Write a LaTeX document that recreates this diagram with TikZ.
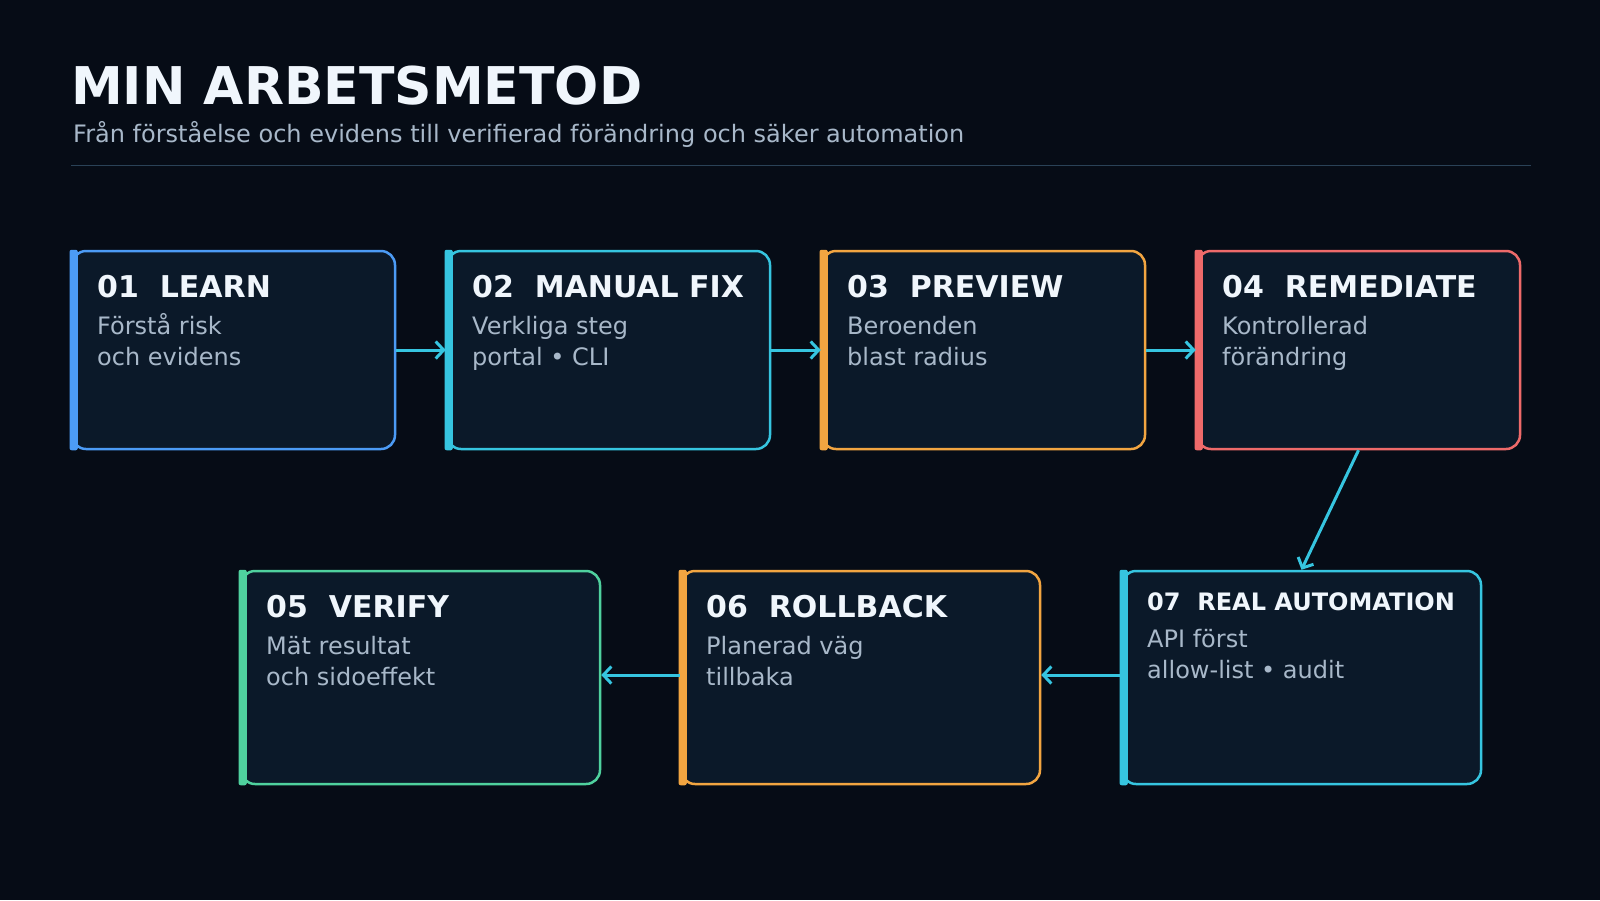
\documentclass[tikz,border=0pt]{standalone}
\usepackage{fontspec}
\setmainfont{DejaVu Sans}
\usepackage{tikz}
\usetikzlibrary{arrows.meta}

\definecolor{bgdark}{HTML}{060C16}
\definecolor{boxfill}{HTML}{0B1929}
\definecolor{ruleline}{HTML}{2A4257}
\definecolor{headtext}{HTML}{F0F6FC}
\definecolor{subtext}{HTML}{A8B8C9}
\definecolor{cBlue}{HTML}{4C9BF5}
\definecolor{cCyan}{HTML}{36C5E0}
\definecolor{cOrange}{HTML}{F2A541}
\definecolor{cRed}{HTML}{EE6A6A}
\definecolor{cGreen}{HTML}{4FD19E}

\tikzset{
  stepbox/.style={draw=#1,fill=boxfill,rounded corners=14pt,line width=2.5pt,inner sep=0pt},
  toprow/.style={stepbox=#1,minimum width=323pt,minimum height=198pt},
  lowrow/.style={stepbox=#1,minimum width=359pt,minimum height=213pt},
  steptitle/.style={anchor=base west,inner sep=0pt,text=headtext,font=\fontsize{30}{34}\selectfont\bfseries},
  stepdesc/.style={anchor=base west,inner sep=0pt,text=subtext,align=left,font=\fontsize{24}{31}\selectfont},
  flow/.style={draw=cCyan,line width=3pt,-{Straight Barb[length=8pt,width=17pt]}}
}

\newcommand{\sidebar}[2]{\fill[#2,rounded corners=2pt] ([xshift=-1.2pt]#1.north west) rectangle ([xshift=7pt]#1.south west);}

\begin{document}
\begin{tikzpicture}[x=1pt,y=-1pt]
  \fill[bgdark] (0,0) rectangle (1600,900);
  \useasboundingbox (0,0) rectangle (1600,900);

  % heading
  \node[anchor=base west,inner sep=0pt,text=headtext,font=\fontsize{52}{60}\selectfont\bfseries] (hTitle) at (71,104) {MIN ARBETSMETOD};
  \node[anchor=base west,inner sep=0pt,text=subtext,font=\fontsize{24}{28}\selectfont] (hSub) at (73,142) {Från förståelse och evidens till verifierad förändring och säker automation};
  \coordinate (rL) at (71,165.5);
  \coordinate (rR) at (1531,165.5);
  \draw[ruleline,line width=1.5pt] (rL) -- (rR);

  % top row
  \node[toprow=cBlue]   (n01) at (233.5,350) {};
  \node[toprow=cCyan]   (n02) at (608.5,350) {};
  \node[toprow=cOrange] (n03) at (983.5,350) {};
  \node[toprow=cRed]    (n04) at (1358.5,350) {};
  % bottom row
  \node[lowrow=cGreen]  (n05) at (420.5,677.5) {};
  \node[lowrow=cOrange] (n06) at (860.5,677.5) {};
  \node[lowrow=cCyan]   (n07) at (1301.5,677.5) {};

  \sidebar{n01}{cBlue}
  \sidebar{n02}{cCyan}
  \sidebar{n03}{cOrange}
  \sidebar{n04}{cRed}
  \sidebar{n05}{cGreen}
  \sidebar{n06}{cOrange}
  \sidebar{n07}{cCyan}

  % texts (desc nodes sit on their last line)
  \node[steptitle] (t01) at (97,297)   {01\ \ LEARN};
  \node[stepdesc]  (d01) at (97,365)   {Förstå risk\\och evidens};
  \node[steptitle] (t02) at (472,297)  {02\ \ MANUAL FIX};
  \node[stepdesc]  (d02) at (472,365)  {Verkliga steg\\portal • CLI};
  \node[steptitle] (t03) at (847,297)  {03\ \ PREVIEW};
  \node[stepdesc]  (d03) at (847,365)  {Beroenden\\blast radius};
  \node[steptitle] (t04) at (1222,297) {04\ \ REMEDIATE};
  \node[stepdesc]  (d04) at (1222,365) {Kontrollerad\\förändring};

  \node[steptitle] (t05) at (266,617)  {05\ \ VERIFY};
  \node[stepdesc]  (d05) at (266,685)  {Mät resultat\\och sidoeffekt};
  \node[steptitle] (t06) at (706,617)  {06\ \ ROLLBACK};
  \node[stepdesc]  (d06) at (706,685)  {Planerad väg\\tillbaka};
  \node[steptitle,font=\fontsize{24}{30}\selectfont\bfseries] (t07) at (1147,610) {07\ \ REAL AUTOMATION};
  \node[stepdesc]  (d07) at (1147,678) {API först\\allow-list • audit};

  \path[every edge/.style={flow}]
        (n01) edge (n02)
        (n02) edge (n03)
        (n03) edge (n04)
        (n04.south) edge (n07.north)
        ([yshift=2.5pt]n07.west) edge ([yshift=2.5pt]n06.east)
        ([yshift=2.5pt]n06.west) edge ([yshift=2.5pt]n05.east);
\end{tikzpicture}
\end{document}
